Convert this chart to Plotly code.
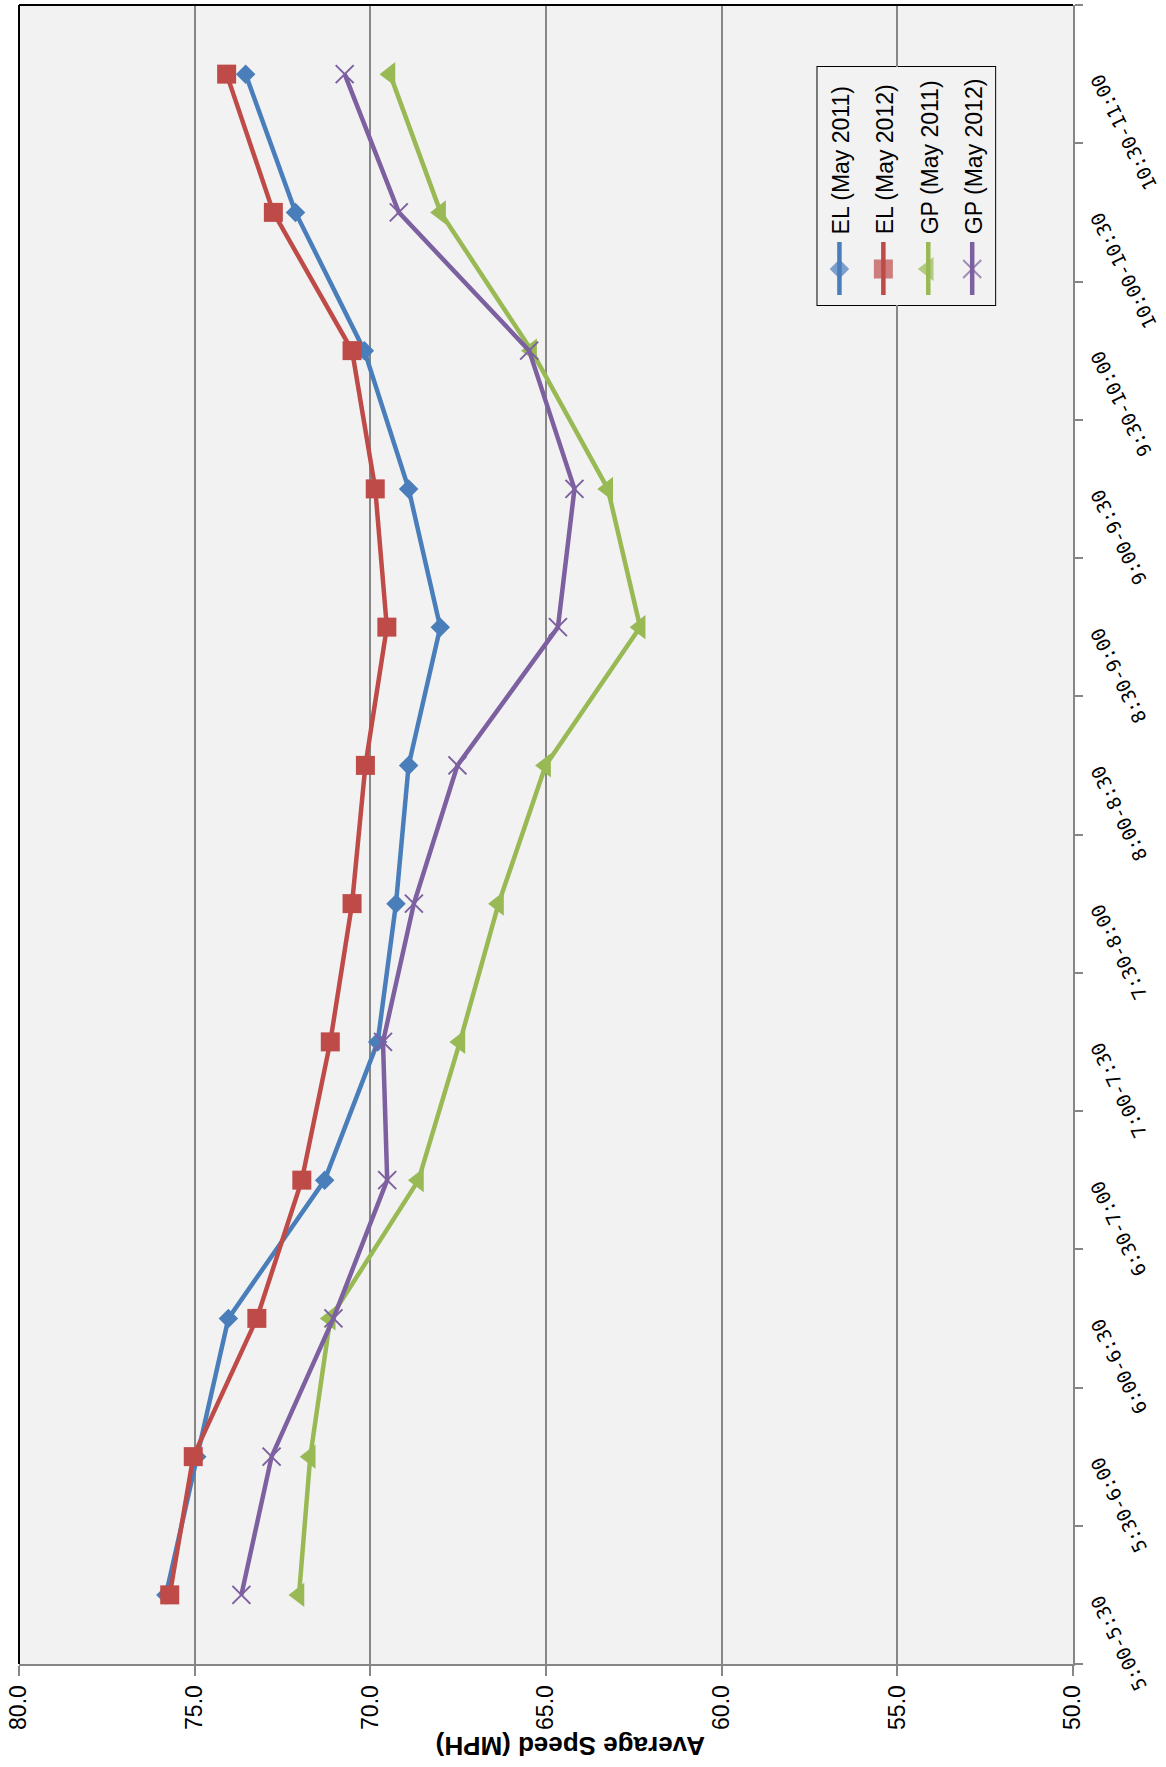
import plotly.graph_objects as go

# Half-hour time bins (bottom to top) and average speeds in MPH
time_bins = ["5:00-5:30", "5:30-6:00", "6:00-6:30", "6:30-7:00", "7:00-7:30", "7:30-8:00",
             "8:00-8:30", "8:30-9:00", "9:00-9:30", "9:30-10:00", "10:00-10:30", "10:30-11:00"]
el_2011 = [75.82, 74.94, 74.04, 71.30, 69.79, 69.27, 68.91, 68.01, 68.91, 70.17, 72.13, 73.55]
el_2012 = [75.71, 75.04, 73.23, 71.95, 71.14, 70.52, 70.14, 69.53, 69.86, 70.52, 72.76, 74.09]
gp_2011 = [72.03, 71.71, 71.14, 68.63, 67.45, 66.35, 65.01, 62.32, 63.24, 65.41, 68.00, 69.44]
gp_2012 = [73.67, 72.81, 71.05, 69.52, 69.64, 68.76, 67.52, 64.66, 64.19, 65.48, 69.19, 70.73]
speed_ticks = [80, 75, 70, 65, 60, 55, 50]

series_names = ["EL (May 2011)", "EL (May 2012)", "GP (May 2011)", "GP (May 2012)"]
series_values = [el_2011, el_2012, gp_2011, gp_2012]

W, H = 1166, 1767
L_M, R_M, T_M, B_M = 17, 93, 5, 103
PW, PH = W - L_M - R_M, H - T_M - B_M

styles = [
    dict(color="#4A7EBB", symbol="diamond", size=15, lw=0),
    dict(color="#BE4B48", symbol="square", size=19, lw=0),
    dict(color="#98B954", symbol="triangle-left", size=21, lw=0),
    dict(color="#7D60A0", symbol="x-thin-open", size=18, lw=2),
]

GRID = "#868686"
SANS = "Liberation Sans"
MONO = "DejaVu Sans Mono"
LINE_W = 4.5

fig = go.Figure()

for name, vals, st in zip(series_names, series_values, styles):
    fig.add_trace(go.Scatter(
        x=vals, y=time_bins, mode="lines+markers", name=name,
        line=dict(color=st["color"], width=LINE_W),
        marker=dict(symbol=st["symbol"], size=st["size"], color=st["color"],
                    line=dict(color=st["color"], width=st["lw"])),
        showlegend=False, xaxis="x", yaxis="y",
    ))

# Legend drawn in a pixel-space helper subplot so it can be rotated
LG_X0, LG_X1, LG_Y0, LG_Y1 = 817, 995, 67, 305
legend_cols = [839, 883, 928, 972]


def px_x(p):
    return (p - L_M) / PW


def px_y(p):
    return (H - B_M - p) / PH


for name, st, cx in zip(series_names, styles, legend_cols):
    fig.add_trace(go.Scatter(
        x=[cx, cx, cx], y=[242, 269, 295], mode="lines+markers",
        line=dict(color=st["color"], width=LINE_W),
        marker=dict(symbol=st["symbol"], size=[0, st["size"], 0], color=st["color"],
                    line=dict(color=st["color"], width=st["lw"])),
        showlegend=False, hoverinfo="skip", xaxis="x2", yaxis="y2",
    ))

annotations = []

# Category labels, rotated and hanging off the right-hand axis
LBL_SIZE = 19
char_w = 0.602 * LBL_SIZE
for cat in time_bins:
    Lt = len(cat) * char_w
    annotations.append(dict(
        x=1, xref="paper", y=cat, yref="y", text=cat, showarrow=False,
        textangle=-116, xanchor="center", yanchor="middle",
        xshift=23 + 0.219 * Lt, yshift=-(2 + 0.45 * Lt),
        font=dict(family=MONO, size=LBL_SIZE, color="#000000"),
    ))

# Legend labels
for name, cx in zip(series_names, legend_cols):
    annotations.append(dict(
        x=px_x(cx + 2), xref="paper", y=px_y(236), yref="paper", text=name,
        showarrow=False, textangle=-90, xanchor="center", yanchor="bottom",
        font=dict(family=SANS, size=23, color="#000000"),
    ))

# Value-axis title (upside down)
annotations.append(dict(
    x=px_x(569), xref="paper", y=px_y(1746), yref="paper",
    text="<b>Average Speed (MPH)</b>", showarrow=False, textangle=180,
    xanchor="center", yanchor="middle",
    font=dict(family=SANS, size=26, color="#000000"),
))

shapes = [
    dict(type="rect", xref="paper", yref="paper",
         x0=px_x(LG_X0), x1=px_x(LG_X1), y0=px_y(LG_Y1), y1=px_y(LG_Y0),
         fillcolor="#FFFFFF", line=dict(color="#000000", width=2), layer="between"),
    dict(type="line", xref="paper", yref="paper", x0=0, x1=0, y0=0, y1=1,
         line=dict(color="#000000", width=2), layer="above"),
    dict(type="line", xref="paper", yref="paper", x0=0, x1=1, y0=1, y1=1,
         line=dict(color="#000000", width=2), layer="above"),
]

fig.update_layout(
    width=W, height=H,
    margin=dict(l=L_M, r=R_M, t=T_M, b=B_M, pad=0),
    paper_bgcolor="#FFFFFF", plot_bgcolor="#F2F2F2",
    showlegend=False,
    xaxis=dict(
        range=[80, 50], tickvals=speed_ticks,
        ticktext=[f"{v:.1f}" for v in speed_ticks], tickangle=-90,
        ticks="outside", ticklen=10, tickwidth=2, tickcolor=GRID,
        showline=True, linecolor=GRID, linewidth=2,
        showgrid=True, gridcolor=GRID, gridwidth=2, zeroline=False,
        tickfont=dict(family=SANS, size=23, color="#000000"),
    ),
    yaxis=dict(
        type="category", categoryorder="array", categoryarray=time_bins,
        range=[-0.5, 11.5], side="right", tickson="boundaries",
        ticks="outside", ticklen=8, tickwidth=2, tickcolor=GRID,
        showline=True, linecolor=GRID, linewidth=2,
        showgrid=False, zeroline=False, showticklabels=False,
    ),
    xaxis2=dict(domain=[px_x(LG_X0), px_x(LG_X1)], range=[LG_X0, LG_X1],
                visible=False, anchor="y2"),
    yaxis2=dict(domain=[px_y(LG_Y1), px_y(LG_Y0)], range=[LG_Y1, LG_Y0],
                visible=False, anchor="x2"),
    annotations=annotations,
    shapes=shapes,
)

fig.write_html("out.html")
